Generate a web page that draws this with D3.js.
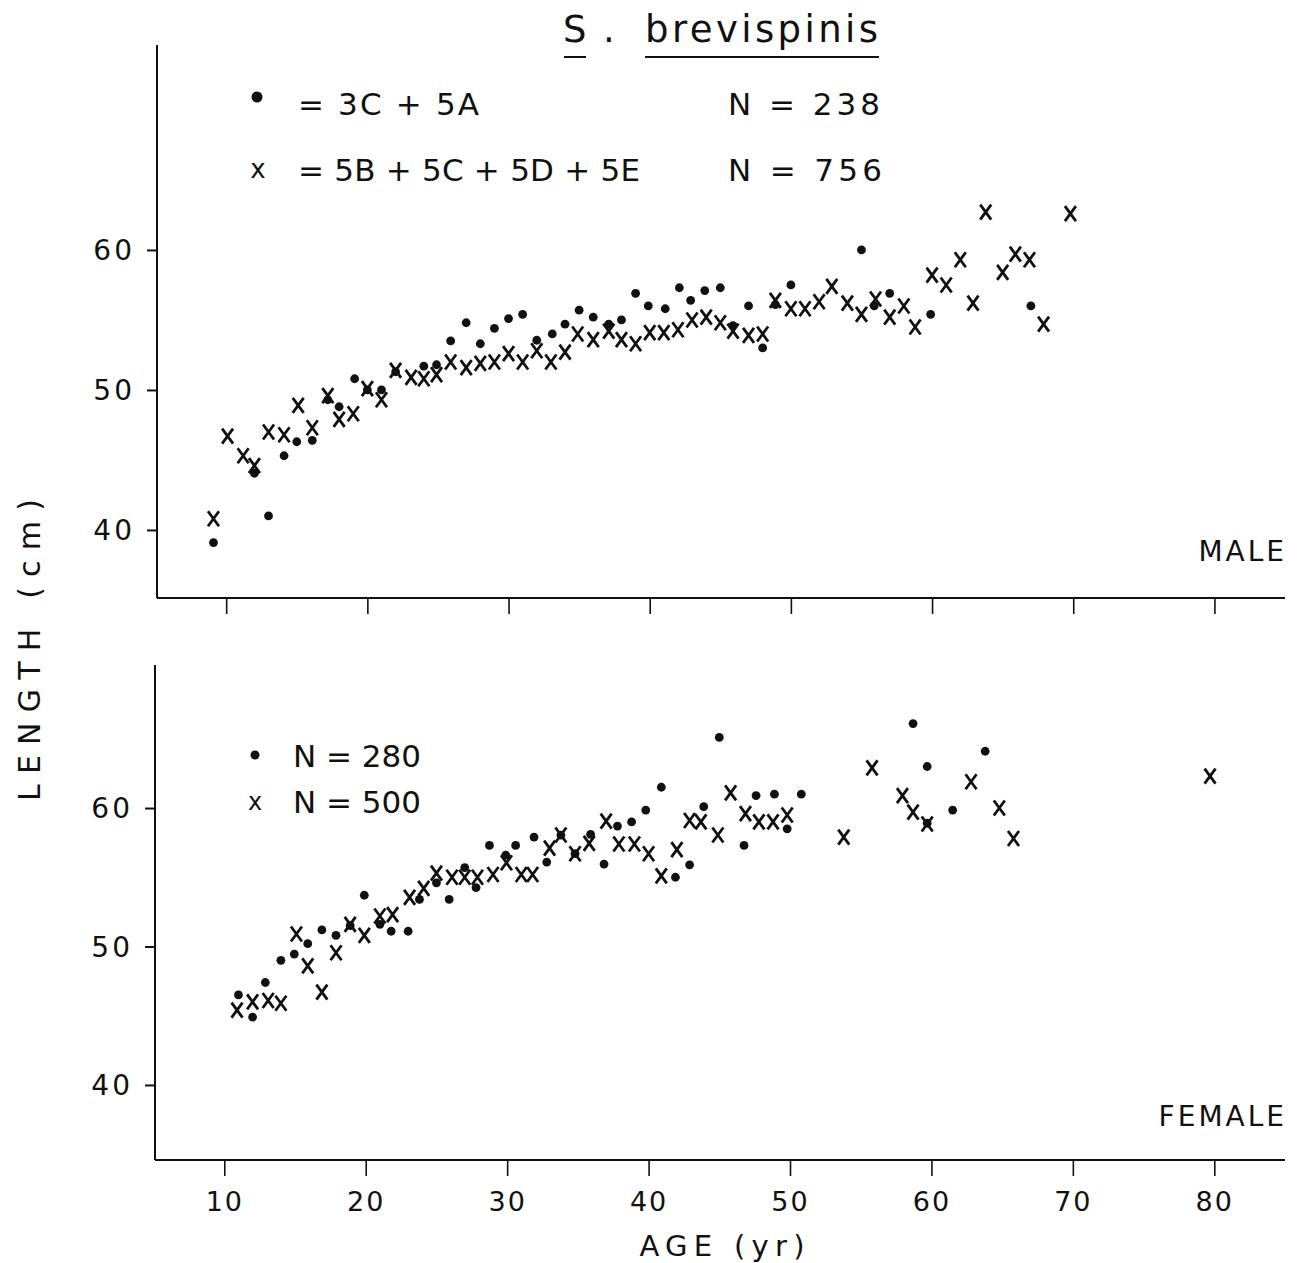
<!DOCTYPE html>
<html><head><meta charset="utf-8">
<script src="https://cdn.jsdelivr.net/npm/d3@7"></script>
<style>
html,body{margin:0;padding:0;background:#fff;}
svg{display:block;}
text{font-family:"DejaVu Sans","Liberation Sans",sans-serif;fill:#111;}
</style></head>
<body>
<script>
// ---------- DATA ----------
const xTicks = [10, 20, 30, 40, 50, 60, 70, 80];
const yTicks = [40, 50, 60];
const titleGenus = "S";
const titleSpecies = "brevispinis";
const maleLegend = ["= 3C + 5A", "= 5B + 5C + 5D + 5E"];
const maleN = ["N = 238", "N = 756"];
const femaleN = ["N = 280", "N = 500"];

// Male, series "3C + 5A" (dots): [age, length]
const maleDots = [[9.1,39.1],[12,44.05],[13,41.0],[14.1,45.3],[15,46.3],[16.1,46.4],[17.2,49.3],[18,48.8],[19.1,50.8],[20,50.0],[21,50.0],[22,51.3],[24,51.7],[24.9,51.8],[25.9,53.5],[27,54.8],[28,53.3],[29,54.4],[30,55.1],[31,55.4],[32,53.55],[33.1,54.0],[34,54.7],[35,55.7],[36,55.2],[37.1,54.7],[38,55.0],[39,56.9],[39.9,56.0],[41.1,55.8],[42.1,57.3],[42.9,56.4],[43.9,57.1],[45,57.3],[45.9,54.6],[47,56.0],[48,53.0],[48.9,56.1],[50,57.5],[55,60.0],[55.9,56.0],[57,56.9],[59.9,55.4],[67,56.0]];
// Male, series "5B + 5C + 5D + 5E" (crosses)
const maleCross = [[9.1,40.8],[10.1,46.7],[11.2,45.3],[12,44.6],[13,47.0],[14.1,46.8],[15.1,48.9],[16.1,47.3],[17.2,49.6],[18,47.9],[19,48.3],[20,50.1],[21,49.3],[22,51.4],[23.1,50.9],[24,50.8],[24.9,51.1],[25.9,52.0],[27,51.6],[28,51.9],[29,52.0],[30,52.6],[31,52.0],[32,52.8],[33,52.0],[34,52.7],[34.9,54.0],[36,53.6],[37.1,54.2],[38,53.6],[39,53.3],[40,54.1],[41,54.1],[42,54.3],[43,55.0],[44,55.2],[45,54.8],[45.9,54.2],[47,53.9],[48,54.0],[48.9,56.4],[50,55.8],[51,55.8],[52,56.3],[52.9,57.4],[54,56.2],[55,55.4],[56,56.5],[57,55.2],[58,56.0],[58.8,54.5],[60,58.2],[61,57.5],[62,59.3],[62.9,56.2],[63.8,62.7],[65,58.4],[65.9,59.7],[66.9,59.3],[67.9,54.7],[69.8,62.6]];
// Female dots
const femaleDots = [[11,46.5],[12,44.9],[12.9,47.4],[14,49.0],[14.95,49.45],[15.9,50.2],[16.9,51.2],[17.9,50.8],[18.9,51.5],[19.9,53.7],[21,51.6],[21.8,51.1],[23,51.1],[23.8,53.4],[25,54.6],[25.9,53.4],[27,55.7],[27.8,54.25],[28.75,57.3],[29.9,56.6],[30.6,57.3],[31.9,57.9],[32.8,56.1],[33.8,58.05],[34.8,56.7],[35.9,58.1],[36.85,55.95],[37.8,58.7],[38.8,59.0],[39.8,59.85],[40.9,61.5],[41.9,55.0],[42.9,55.9],[43.9,60.1],[45,65.1],[46.75,57.3],[47.6,60.9],[48.9,61.0],[49.8,58.5],[50.8,61.0],[58.7,66.1],[59.7,63.0],[59.7,58.9],[61.5,59.85],[63.8,64.1]];
// Female crosses
const femaleCross = [[10.9,45.4],[12,46.0],[13.1,46.1],[14,45.9],[15.1,50.9],[15.9,48.6],[16.9,46.7],[17.9,49.55],[18.9,51.6],[19.9,50.8],[21,52.2],[21.9,52.3],[23.1,53.55],[24.1,54.2],[25,55.3],[26.1,55.0],[27,55.0],[27.9,55.0],[29,55.2],[29.95,56.05],[31,55.2],[31.8,55.2],[33,57.1],[33.8,58.05],[34.8,56.7],[35.8,57.45],[37,59.05],[37.9,57.4],[39,57.4],[40,56.7],[40.9,55.1],[42,57.0],[42.9,59.1],[43.7,59.0],[44.9,58.05],[45.8,61.1],[46.85,59.6],[47.8,59.0],[48.8,59.0],[49.8,59.5],[53.8,57.9],[55.8,62.9],[57.95,60.9],[58.7,59.7],[59.7,58.85],[62.8,61.9],[64.8,60.0],[65.8,57.8],[79.7,62.3]];

// ---------- DRAW ----------
const W = 1301, H = 1263;
const svg = d3.select("body").append("svg").attr("width", W).attr("height", H);

const xTop = d3.scaleLinear().domain([5.1, 85]).range([157, 1285]);
const yTop = d3.scaleLinear().domain([35.14, 74.64]).range([598, 45]);
const xBot = d3.scaleLinear().domain([5.1, 85]).range([155, 1285]);
const yBot = d3.scaleLinear().domain([34.58, 70.33]).range([1160, 665]);

const crossPath = "M-5.5,-7.5L5.5,7.5M5.5,-7.5L-5.5,7.5";

function panel(x, y, dots, crosses, showXLabels, label, labelY) {
  const g = svg.append("g");
  // y axis
  const ya = d3.axisLeft(y).tickValues(yTicks).tickSize(10).tickPadding(12).tickFormat(d3.format("d"));
  const gy = g.append("g").attr("transform", `translate(${x.range()[0]},0)`).call(ya);
  gy.select(".domain").attr("stroke", "#111").attr("stroke-width", 2).attr("d", `M0,${y.range()[1]}V${y.range()[0]}`);
  gy.selectAll(".tick line").attr("stroke", "#111").attr("stroke-width", 2);
  gy.selectAll(".tick text").attr("font-size", 28).attr("letter-spacing", 3).attr("fill", "#111").attr("dy", "0.35em");
  // x axis
  const xa = d3.axisBottom(x).tickValues(xTicks).tickSize(16).tickPadding(16).tickFormat(showXLabels ? d3.format("d") : () => "");
  const gx = g.append("g").attr("transform", `translate(0,${y.range()[0]})`).call(xa);
  gx.select(".domain").attr("stroke", "#111").attr("stroke-width", 2.2).attr("d", `M${x.range()[0]},0H${x.range()[1]}`);
  gx.selectAll(".tick line").attr("stroke", "#111").attr("stroke-width", 1.6);
  gx.selectAll(".tick text").attr("font-size", 27).attr("letter-spacing", 2).attr("fill", "#111");
  // dots
  g.append("g").selectAll("circle").data(dots).join("circle")
    .attr("cx", d => x(d[0])).attr("cy", d => y(d[1])).attr("r", 4.4).attr("fill", "#111");
  // crosses
  g.append("g").selectAll("path").data(crosses).join("path")
    .attr("transform", d => `translate(${x(d[0])},${y(d[1])})`)
    .attr("d", crossPath).attr("stroke", "#111").attr("stroke-width", 2.8).attr("fill", "none");
  // sex label
  g.append("text").attr("x", 1287).attr("y", labelY).attr("text-anchor", "end")
    .attr("font-size", 28).attr("letter-spacing", 3).text(label);
}

panel(xTop, yTop, maleDots, maleCross, false, "MALE", 561);
panel(xBot, yBot, femaleDots, femaleCross, true, "FEMALE", 1126);

// title
svg.append("text").attr("x", 563).attr("y", 42).attr("font-size", 37).text(titleGenus);
svg.append("text").attr("x", 603).attr("y", 42).attr("font-size", 37).text(".");
svg.append("text").attr("x", 645).attr("y", 42).attr("font-size", 37)
  .attr("textLength", 233).attr("lengthAdjust", "spacing").text(titleSpecies);
svg.append("line").attr("x1", 564).attr("x2", 586).attr("y1", 57).attr("y2", 57).attr("stroke", "#111").attr("stroke-width", 2);
svg.append("line").attr("x1", 645).attr("x2", 879).attr("y1", 57).attr("y2", 57).attr("stroke", "#111").attr("stroke-width", 2);

// male legend
svg.append("circle").attr("cx", 257).attr("cy", 97).attr("r", 5.5).attr("fill", "#111");
svg.append("text").attr("x", 258).attr("y", 178).attr("text-anchor", "middle").attr("font-size", 26).text("x");
svg.append("text").attr("x", 298).attr("y", 115).attr("font-size", 31)
  .attr("textLength", 181).attr("lengthAdjust", "spacing").text(maleLegend[0]);
svg.append("text").attr("x", 298).attr("y", 181).attr("font-size", 31)
  .attr("textLength", 342).attr("lengthAdjust", "spacing").text(maleLegend[1]);
svg.append("text").attr("x", 728).attr("y", 115).attr("font-size", 31)
  .attr("textLength", 152).attr("lengthAdjust", "spacing").text(maleN[0]);
svg.append("text").attr("x", 728).attr("y", 181).attr("font-size", 31)
  .attr("textLength", 154).attr("lengthAdjust", "spacing").text(maleN[1]);

// female legend
svg.append("circle").attr("cx", 255).attr("cy", 755).attr("r", 4.5).attr("fill", "#111");
svg.append("text").attr("x", 255).attr("y", 810).attr("text-anchor", "middle").attr("font-size", 24).text("x");
svg.append("text").attr("x", 293).attr("y", 767).attr("font-size", 31)
  .attr("textLength", 128).attr("lengthAdjust", "spacing").text(femaleN[0]);
svg.append("text").attr("x", 293).attr("y", 813).attr("font-size", 31)
  .attr("textLength", 128).attr("lengthAdjust", "spacing").text(femaleN[1]);

// axis titles
svg.append("text").attr("transform", "translate(40,650) rotate(-90)").attr("text-anchor", "middle")
  .attr("font-size", 30).attr("textLength", 302).attr("lengthAdjust", "spacing").text("LENGTH (cm)");
svg.append("text").attr("x", 722).attr("y", 1256).attr("text-anchor", "middle")
  .attr("font-size", 29).attr("textLength", 165).attr("lengthAdjust", "spacing").text("AGE (yr)");
</script>
</body></html>
